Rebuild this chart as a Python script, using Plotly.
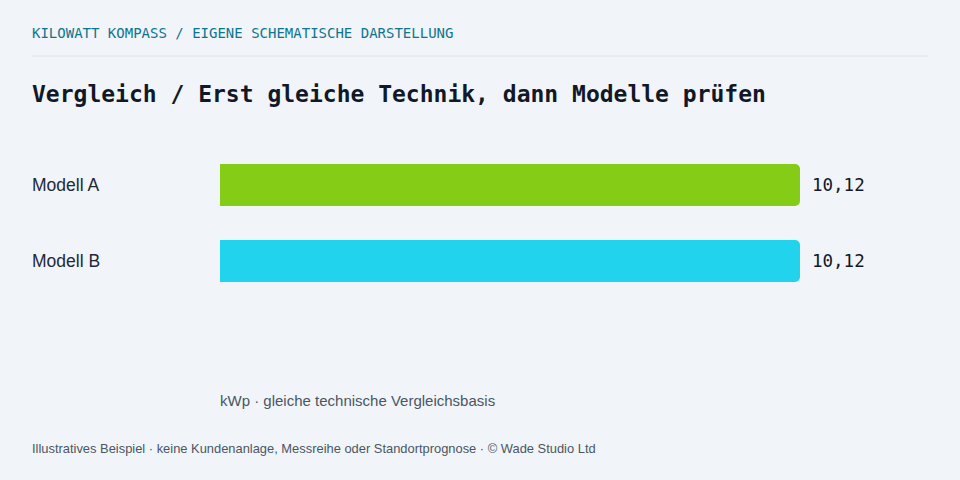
import plotly.graph_objects as go

# data
models = ["Modell A", "Modell B"]
kwp = [10.12, 10.12]
bar_colors = ["#84cc16", "#22d3ee"]

kicker = "KILOWATT KOMPASS / EIGENE SCHEMATISCHE DARSTELLUNG"
headline = "Vergleich / Erst gleiche Technik, dann Modelle prüfen"
axis_note = "kWp · gleiche technische Vergleichsbasis"
footer = "Illustratives Beispiel · keine Kundenanlage, Messreihe oder Standortprognose · © Wade Studio Ltd"

W, H = 960, 480
M_L, M_R, M_T, M_B = 220, 160, 147, 181
plot_w = W - M_L - M_R
plot_h = H - M_T - M_B

MONO = "DejaVu Sans Mono, monospace"
SANS = "Liberation Sans, Arial, sans-serif"


def px_x(x):
    # page pixel -> paper x (annotation box has ~2px padding, compensate)
    return (x - 2 - M_L) / plot_w


def px_y(y):
    # page pixel -> paper y
    return (H - M_B - y) / plot_h


fig = go.Figure()
fig.add_trace(go.Bar(
    x=kwp,
    y=models,
    orientation="h",
    marker=dict(color=bar_colors, line=dict(width=0)),
    hoverinfo="skip",
))

annotations = [
    dict(text=kicker, x=px_x(32), y=px_y(33), xanchor="left", yanchor="middle",
         font=dict(family=MONO, size=14, color="#0e7490")),
    dict(text="<b>" + headline + "</b>", x=px_x(32), y=px_y(94), xanchor="left", yanchor="middle",
         font=dict(family=MONO, size=23, color="#111827")),
    dict(text=axis_note, x=px_x(220), y=px_y(400), xanchor="left", yanchor="middle",
         font=dict(family=SANS, size=15, color="#4b5563")),
    dict(text=footer, x=px_x(32), y=px_y(448), xanchor="left", yanchor="middle",
         font=dict(family=SANS, size=12.9, color="#4b5563")),
]
for m, v in zip(models, kwp):
    annotations.append(dict(text=m, x=px_x(32), y=m, yref="y", xanchor="left", yanchor="middle",
                            font=dict(family=SANS, size=17.5, color="#1f2937")))
    annotations.append(dict(text=f"{v:.2f}".replace(".", ","), x=v, y=m, xref="x", yref="y",
                            xanchor="left", yanchor="middle", xshift=10,
                            font=dict(family=MONO, size=17.5, color="#111827")))
for a in annotations:
    a.setdefault("xref", "paper")
    a.setdefault("yref", "paper")
    a["showarrow"] = False

fig.update_layout(
    width=W, height=H,
    margin=dict(l=M_L, r=M_R, t=M_T, b=M_B),
    paper_bgcolor="#f1f5f9",
    plot_bgcolor="#f1f5f9",
    bargap=0.45,
    barcornerradius=5,
    showlegend=False,
    annotations=annotations,
    shapes=[dict(type="line", xref="paper", yref="paper",
                 x0=(32 - M_L) / plot_w, x1=(928 - M_L) / plot_w, y0=px_y(56), y1=px_y(56),
                 line=dict(color="#dfe4ea", width=1))],
    xaxis=dict(range=[0, max(kwp)], visible=False, fixedrange=True),
    yaxis=dict(categoryorder="array", categoryarray=models, autorange="reversed",
               showticklabels=False, showgrid=False, zeroline=False, fixedrange=True),
)

fig.write_html("out.html", config={"displayModeBar": False},
               post_script="document.body.style.margin='0';document.body.style.background='#f1f5f9';")
